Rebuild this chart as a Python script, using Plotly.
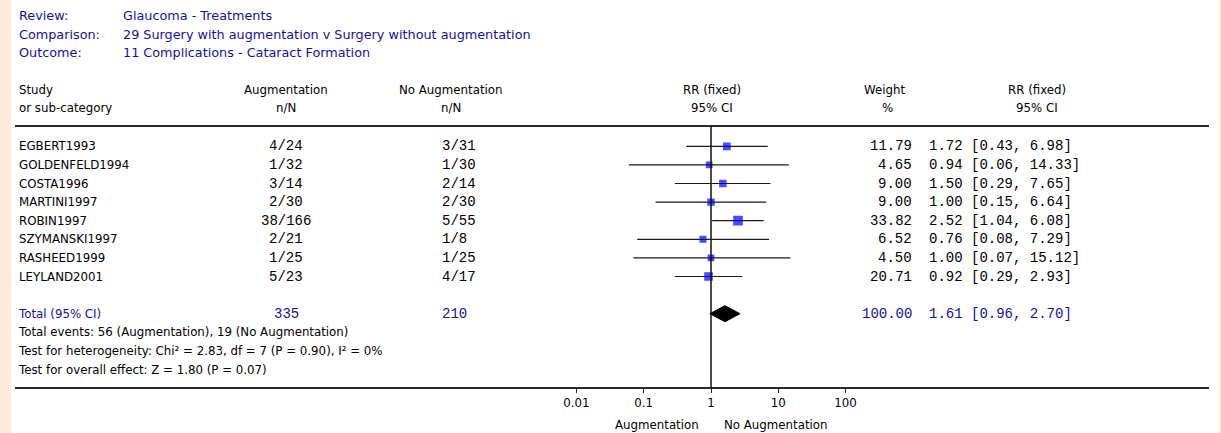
import plotly.graph_objects as go

# ---- data -------------------------------------------------------------
studies = ["EGBERT1993", "GOLDENFELD1994", "COSTA1996", "MARTINI1997",
           "ROBIN1997", "SZYMANSKI1997", "RASHEED1999", "LEYLAND2001"]
aug_events = [4, 1, 3, 2, 38, 2, 1, 5]
aug_total = [24, 32, 14, 30, 166, 21, 25, 23]
noaug_events = [3, 1, 2, 2, 5, 1, 1, 4]
noaug_total = [31, 30, 14, 30, 55, 8, 25, 17]
weights = [11.79, 4.65, 9.00, 9.00, 33.82, 6.52, 4.50, 20.71]
rr = [1.72, 0.94, 1.50, 1.00, 2.52, 0.76, 1.00, 0.92]
ci_low = [0.43, 0.06, 0.29, 0.15, 1.04, 0.08, 0.07, 0.29]
ci_high = [6.98, 14.33, 7.65, 6.64, 6.08, 7.29, 15.12, 2.93]

total_aug = 335
total_noaug = 210
total_weight = 100.00
pooled_rr = 1.61
pooled_low = 0.96
pooled_high = 2.70

header_keys = ["Review:", "Comparison:", "Outcome:"]
header_vals = ["Glaucoma - Treatments",
               "29 Surgery with augmentation v Surgery without augmentation",
               "11 Complications - Cataract Formation"]
notes = ["Total events: 56 (Augmentation), 19 (No Augmentation)",
         "Test for heterogeneity: Chi² = 2.83, df = 7 (P = 0.90), I² = 0%",
         "Test for overall effect: Z = 1.80 (P = 0.07)"]
tick_vals = [0.01, 0.1, 1, 10, 100]
tick_text = ["0.01", "0.1", "1", "10", "100"]
favours = ["Augmentation", "No Augmentation"]

# ---- layout constants (pixels) ---------------------------------------
W, H = 1221, 433
ROW0, ROW_STEP = 146.3, 18.6          # pixel centre of first study row, row pitch
AXIS_PIX = 388                          # bottom rule / x axis
ONE_PIX, DECADE = 711, 67.3             # position of RR=1 and px per decade

SANS = "DejaVu Sans, Verdana, sans-serif"
MONO = "Liberation Mono, Courier New, monospace"
SANS_SIZE = 11.8
HEAD_SIZE = 12.8
MONO_SIZE = 14
BLUE_TXT = "#12129e"
BLACK = "#000000"
PEACH = "#fdeadb"


def px(x):
    return x / W


def py(y):
    return 1 - y / H


def row_of(pix):
    return (pix - ROW0) / ROW_STEP


fig = go.Figure()

# confidence intervals
ci_x, ci_y = [], []
for i, (lo, hi) in enumerate(zip(ci_low, ci_high)):
    ci_x += [lo, hi, None]
    ci_y += [i, i, None]
fig.add_trace(go.Scatter(x=ci_x, y=ci_y, mode="lines",
                         line=dict(color="#1a1a1a", width=1.2),
                         hoverinfo="skip", showlegend=False))

# study point estimates, box size by weight
sizes = [5 + 0.8 * w ** 0.5 for w in weights]
fig.add_trace(go.Scatter(x=rr, y=list(range(len(studies))), mode="markers",
                         marker=dict(symbol="square", size=sizes, color="#0000f0",
                                     line=dict(width=0)),
                         showlegend=False))

# pooled estimate diamond
total_row = len(studies) + 1
half_h = 8 / ROW_STEP
fig.add_trace(go.Scatter(x=[pooled_low, pooled_rr, pooled_high, pooled_rr, pooled_low],
                         y=[total_row, total_row - half_h, total_row, total_row + half_h, total_row],
                         mode="lines", fill="toself", fillcolor=BLACK,
                         line=dict(color=BLACK, width=1), showlegend=False))

ann = []


def text(x, y, s, anchor="left", font=SANS, color=BLACK, size=SANS_SIZE, yref="paper"):
    ann.append(dict(x=px(x), y=y, xref="paper", yref=yref, text=s, showarrow=False,
                    xanchor=anchor, yanchor="middle",
                    font=dict(family=font, size=size, color=color)))


# title block
for k, (key, val) in enumerate(zip(header_keys, header_vals)):
    y = py(15.7 + 18.3 * k)
    text(17, y, key, color=BLUE_TXT, size=HEAD_SIZE)
    text(121, y, val, color=BLUE_TXT, size=HEAD_SIZE)

# column headers
h1, h2 = py(90), py(108)
text(17, h1, "Study")
text(17, h2, "or sub-category")
text(286, h1, "Augmentation", "center")
text(286, h2, "n/N", "center")
text(451, h1, "No Augmentation", "center")
text(451, h2, "n/N", "center")
text(712, h1, "RR (fixed)", "center")
text(712, h2, "95% CI", "center")
text(884, h1, "Weight", "center")
text(887, h2, "%", "center")
text(1037, h1, "RR (fixed)", "center")
text(1037, h2, "95% CI", "center")

# study rows
for i, name in enumerate(studies):
    text(17, i, name, yref="y")
    text(286, i, f"{aug_events[i]}/{aug_total[i]}", "center", MONO, size=MONO_SIZE, yref="y")
    text(440, i, f"{noaug_events[i]}/{noaug_total[i]}", "left", MONO, size=MONO_SIZE, yref="y")
    text(914, i, f"{weights[i]:.2f}", "right", MONO, size=MONO_SIZE, yref="y")
    text(927, i, f"{rr[i]:.2f} [{ci_low[i]:.2f}, {ci_high[i]:.2f}]", "left", MONO,
         size=MONO_SIZE, yref="y")

# total row
text(16, total_row, "Total (95% CI)", color=BLUE_TXT, yref="y")
text(286, total_row, f"{total_aug}", "center", MONO, BLUE_TXT, MONO_SIZE, "y")
text(440, total_row, f"{total_noaug}", "left", MONO, BLUE_TXT, MONO_SIZE, "y")
text(914, total_row, f"{total_weight:.2f}", "right", MONO, BLUE_TXT, MONO_SIZE, "y")
text(927, total_row, f"{pooled_rr:.2f} [{pooled_low:.2f}, {pooled_high:.2f}]", "left",
     MONO, BLUE_TXT, MONO_SIZE, "y")

# summary notes
for k, note in enumerate(notes):
    text(16, total_row + 1 + k, note, yref="y")

# favours labels
text(701, py(425), favours[0], "right")
text(722, py(425), favours[1], "left")

shapes = [
    # white panel on peach page
    dict(type="rect", xref="paper", yref="paper", x0=px(11), x1=px(1219), y0=0, y1=1,
         fillcolor="white", line=dict(width=0), layer="below"),
    # rules
    dict(type="line", xref="paper", yref="paper", x0=px(15), x1=px(1209),
         y0=py(126), y1=py(126), line=dict(color="#2a2a2a", width=2)),
    dict(type="line", xref="paper", yref="paper", x0=px(15), x1=px(1209),
         y0=py(AXIS_PIX), y1=py(AXIS_PIX), line=dict(color="#2a2a2a", width=2)),
    # line of no effect
    dict(type="line", xref="x", yref="paper", x0=1, x1=1, y0=py(AXIS_PIX), y1=py(126),
         line=dict(color="#111111", width=1.5)),
]

x_lo = ONE_PIX - 2.5 * DECADE
x_hi = ONE_PIX + 2.5 * DECADE

fig.update_layout(
    width=W, height=H, autosize=False,
    margin=dict(l=0, r=0, t=0, b=0),
    paper_bgcolor=PEACH, plot_bgcolor="rgba(0,0,0,0)",
    showlegend=False,
    annotations=ann, shapes=shapes,
    xaxis=dict(type="log", range=[-2.5, 2.5], domain=[px(x_lo), px(x_hi)],
               tickvals=tick_vals, ticktext=tick_text, ticks="outside", ticklen=4,
               tickwidth=1, tickcolor="#222", showgrid=False, zeroline=False,
               showline=False, tickfont=dict(family=SANS, size=SANS_SIZE, color=BLACK),
               fixedrange=True),
    yaxis=dict(range=[row_of(AXIS_PIX), row_of(0)], domain=[py(AXIS_PIX), 1],
               visible=False, fixedrange=True),
)

fig.write_html("out.html")
